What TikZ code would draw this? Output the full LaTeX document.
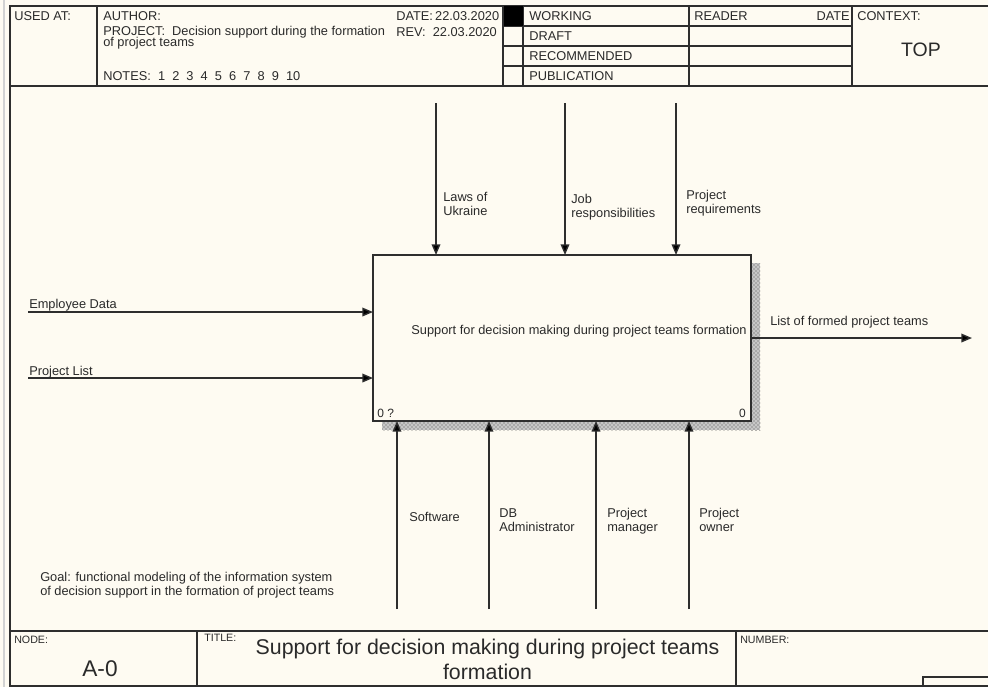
\documentclass[tikz,border=0pt]{standalone}
\usepackage{fontspec}
\setmainfont{Liberation Sans}
\usetikzlibrary{arrows.meta,patterns}
\definecolor{bg}{HTML}{FEFBF2}
\definecolor{ln}{HTML}{2E2E2E}
\definecolor{tx}{HTML}{2A2A2A}
\begin{document}
\begin{tikzpicture}[x=0.75pt,y=-0.75pt,
  form/.style={draw=ln, line width=1pt},
  txt/.style={font=\fontsize{9.6}{10.2}\selectfont, text=tx, inner sep=0pt, align=left, anchor=west},
  smalltxt/.style={font=\fontsize{8}{9}\selectfont, text=tx, inner sep=0pt, anchor=west},
  funcbox/.style={draw=ln, line width=1.1pt, fill=bg, minimum width=283.5pt, minimum height=124.5pt, inner sep=0pt, outer sep=0pt},
  arr/.style={draw=ln, line width=1.05pt, -{Triangle[length=8pt,width=6.5pt,fill=black]}},
  shadow/.style={fill=gray!45, postaction={pattern=crosshatch dots, pattern color=black!70}}]
\useasboundingbox (0,0) rectangle (988,687);
\fill[bg] (0,0) rectangle (988,687);
\draw[gray!35, line width=1.5pt] (4,0) -- (4,687);
% ---- header frame
\draw[form] (988,6) -- (10,6) -- (10,687);
\draw[form] (10,86) -- (988,86);
\foreach \xx in {97,503,523,689,852} \draw[form] (\xx,6) -- (\xx,86);
\foreach \yy in {26,46,66} \draw[form] (503,\yy) -- (852,\yy);
\node[txt] (usedat) at (14,16) {USED AT:};
\node[txt] (author) at (103,16) {AUTHOR:};
\node[txt] (project) at (103,32) {PROJECT:\ \ Decision support during the formation};
\node[txt] (project2) at (103,43) {of project teams};
\node[txt] (notes) at (103,76) {NOTES:\ \ 1\ \ 2\ \ 3\ \ 4\ \ 5\ \ 6\ \ 7\ \ 8\ \ 9\ \ 10};
\begin{scope}
\clip (300,6) rectangle (503,86);
\node[txt] (date) at (396,16) {DATE:\,22.03.2020};
\node[txt] (rev) at (396,32) {REV:\ \ 22.03.2020};
\end{scope}
\fill[black] (504,6) rectangle (523,26);
\node[txt] (working) at (529,16) {WORKING};
\node[txt] (draft) at (529,36) {DRAFT};
\node[txt] (recom) at (529,56) {RECOMMENDED};
\node[txt] (publ) at (529,76) {PUBLICATION};
\node[txt] (reader) at (694,16) {READER};
\node[txt, anchor=east] (rdate) at (850,16) {DATE};
\node[txt] (context) at (857,16) {CONTEXT:};
\node[font=\fontsize{14.6}{16}\selectfont, text=tx, inner sep=0pt] (top) at (921,50) {TOP};
% ---- footer
\draw[form] (10,631) -- (988,631);
\draw[form] (10,686) -- (988,686);
\draw[form] (197,631) -- (197,687);
\draw[form] (736,631) -- (736,687);
\draw[form] (923,687) -- (923,677) -- (988,677);
\node[smalltxt] (nodelbl) at (14,640) {NODE:};
\node[font=\fontsize{17}{19}\selectfont, text=tx, inner sep=0pt] (nodeid) at (100,669) {A-0};
\node[smalltxt] (titlelbl) at (204,638) {TITLE:};
\node[font=\fontsize{16}{18.75}\selectfont, text=tx, inner sep=0pt, align=center] (title) at (487.5,659.5) {Support for decision making during project teams\\formation};
\node[smalltxt] (numberlbl) at (740,640) {NUMBER:};
% ---- function box
\path[shadow] (751,263) rectangle (760,430);
\path[shadow] (382,421) rectangle (760,430);
\node[funcbox] (A0) at (562,338) {};
\node[txt, anchor=center] (A0text) at (579,331) {Support for decision making during project teams formation};
\node[txt, font=\fontsize{9}{10}\selectfont] (A0num) at (377,413) {0 ?};
\node[txt, font=\fontsize{9}{10}\selectfont, anchor=east] (A0cost) at (746,413) {0};
% ---- controls
\coordinate (c1) at (436,103);
\coordinate (c2) at (565,103);
\coordinate (c3) at (676,103);
\draw[arr] (c1) -- (c1 |- A0.north);
\draw[arr] (c2) -- (c2 |- A0.north);
\draw[arr] (c3) -- (c3 |- A0.north);
\node[txt] (lc1) at (443,204) {Laws of\\Ukraine};
\node[txt] (lc2) at (571,207) {Job\\responsibilities};
\node[txt] (lc3) at (686,203) {Project\\requirements};
% ---- mechanisms
\coordinate (m1) at (397,609);
\coordinate (m2) at (489,609);
\coordinate (m3) at (596,609);
\coordinate (m4) at (689,609);
\draw[arr] (m1) -- (m1 |- A0.south);
\draw[arr] (m2) -- (m2 |- A0.south);
\draw[arr] (m3) -- (m3 |- A0.south);
\draw[arr] (m4) -- (m4 |- A0.south);
\node[txt] (lm1) at (409,517) {Software};
\node[txt] (lm2) at (499,520) {DB\\Administrator};
\node[txt] (lm3) at (607,521) {Project\\manager};
\node[txt] (lm4) at (699,520) {Project\\owner};
% ---- inputs
\coordinate (i1) at (28,312);
\coordinate (i2) at (28,378);
\draw[arr] (i1) -- (A0.west |- i1);
\draw[arr] (i2) -- (A0.west |- i2);
\node[txt] (li1) at (29,305) {Employee Data};
\node[txt] (li2) at (29,372) {Project List};
% ---- output
\coordinate (o1) at (972,338);
\draw[arr] (A0.east |- o1) -- (o1);
\node[txt] (lo1) at (770,322) {List of formed project teams};
% ---- goal
\node[txt] (goal) at (40,585) {Goal: functional modeling of the information system\\of decision support in the formation of project teams};
\end{tikzpicture}
\end{document}
